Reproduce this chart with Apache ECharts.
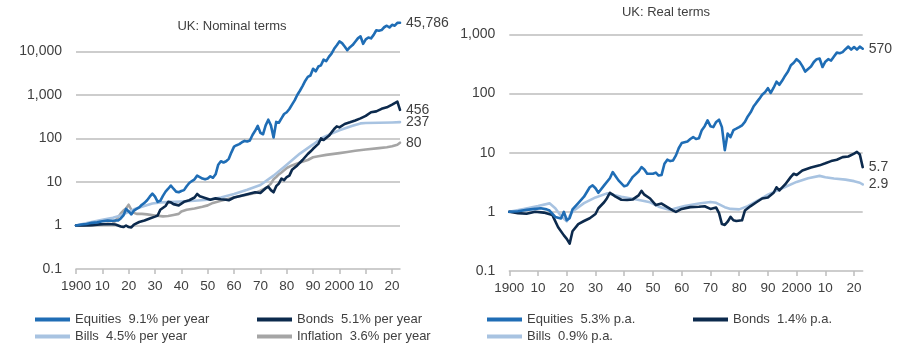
<!DOCTYPE html>
<html>
<head>
<meta charset="utf-8">
<script src="https://cdn.jsdelivr.net/npm/echarts@6/dist/echarts.min.js"></script>
<style>
html,body{margin:0;padding:0;background:#fff;}
#chart{width:900px;height:355px;}
</style>
</head>
<body>
<div id="chart"></div>
<script>
// ---------- DATA ----------
const xTickYears = [1900, 1910, 1920, 1930, 1940, 1950, 1960, 1970, 1980, 1990, 2000, 2010, 2020];
const nominalTitle = 'UK: Nominal terms';
const realTitle = 'UK: Real terms';

const nominalNames = ['Equities  9.1% per year', 'Bonds  5.1% per year', 'Bills  4.5% per year', 'Inflation  3.6% per year'];
const nominalEndLabels = ['45,786', '456', '237', '80'];
const realNames = ['Equities  5.3% p.a.', 'Bonds  1.4% p.a.', 'Bills  0.9% p.a.'];
const realEndLabels = ['570', '5.7', '2.9'];

const nominalEquities = [[1900,1],[1902,1.05],[1904,1.08],[1906,1.15],[1908,1.18],[1910,1.25],[1912,1.3],[1914,1.28],[1915,1.3],[1916,1.3],[1917,1.45],[1918,1.7],[1919,2.4],[1920,2.1],[1921,1.8],[1922,2.2],[1923,2.4],[1924,2.6],[1925,3.0],[1926,3.3],[1927,3.8],[1928,4.6],[1929,5.4],[1930,4.6],[1931,3.5],[1932,3.7],[1933,4.8],[1934,6.0],[1935,7.0],[1936,8.3],[1937,7.0],[1938,6.0],[1939,5.8],[1940,6.2],[1941,6.5],[1942,8.0],[1943,9.5],[1944,10.5],[1945,11.5],[1946,14],[1947,13],[1948,12],[1949,11.5],[1950,12],[1951,13.5],[1952,12.5],[1953,15],[1954,25],[1955,30],[1956,28],[1957,30],[1958,34],[1959,48],[1960,65],[1961,70],[1962,74],[1963,82],[1964,88],[1965,85],[1966,90],[1967,120],[1968,150],[1969,195],[1970,135],[1971,125],[1972,200],[1973,270],[1974,200],[1975,105],[1976,240],[1977,230],[1978,290],[1979,365],[1980,400],[1981,475],[1982,600],[1983,750],[1984,1000],[1985,1250],[1986,1600],[1987,2100],[1988,2600],[1989,2800],[1990,4000],[1991,3500],[1992,4500],[1993,4800],[1994,6500],[1995,6000],[1996,7500],[1997,8900],[1998,11500],[1999,13900],[2000,17000],[2001,15500],[2002,13000],[2003,10700],[2004,12500],[2005,14000],[2006,16700],[2007,20000],[2008,22300],[2009,15000],[2010,19000],[2011,21000],[2012,20000],[2013,24000],[2014,30700],[2015,30000],[2016,31000],[2017,36000],[2018,39000],[2019,35500],[2020,41000],[2021,39000],[2022,45500],[2023,45786]];

const nominalBonds = [[1900,1],[1903,1.0],[1906,1.02],[1909,1.06],[1912,1.08],[1915,1.05],[1917,0.95],[1918,0.92],[1919,1.0],[1920,0.92],[1921,0.9],[1922,1.05],[1924,1.2],[1926,1.3],[1928,1.45],[1930,1.6],[1931,1.7],[1932,2.3],[1934,2.8],[1935,3.5],[1936,3.4],[1937,3.1],[1939,2.9],[1941,3.5],[1943,3.8],[1945,4.4],[1946,5.3],[1947,4.7],[1949,4.3],[1951,3.9],[1953,4.2],[1955,4.0],[1957,3.9],[1958,3.8],[1960,4.4],[1962,4.7],[1965,5.2],[1968,5.8],[1970,5.6],[1972,7.2],[1973,7.8],[1974,6.5],[1975,5.8],[1976,8.0],[1977,9.2],[1978,12],[1979,11],[1980,13],[1981,14],[1982,19],[1984,24],[1986,32],[1988,44],[1989,50],[1990,58],[1992,75],[1993,100],[1994,92],[1996,115],[1998,165],[1999,190],[2000,180],[2002,215],[2004,235],[2006,260],[2008,290],[2010,330],[2012,400],[2014,420],[2016,480],[2018,520],[2020,600],[2021,650],[2022,700],[2023,456]];

const nominalBills = [[1900,1],[1905,1.17],[1910,1.35],[1914,1.5],[1917,1.7],[1920,2.05],[1922,2.35],[1925,2.7],[1929,3.2],[1932,3.4],[1935,3.45],[1940,3.55],[1945,3.7],[1950,3.9],[1955,4.4],[1960,5.3],[1965,6.6],[1970,8.5],[1975,14],[1980,25],[1985,45],[1990,73],[1993,100],[1995,115],[2000,155],[2005,195],[2008,222],[2010,226],[2015,230],[2020,233],[2023,237]];

const nominalInflation = [[1900,1],[1905,1.0],[1910,1.05],[1914,1.1],[1915,1.3],[1916,1.55],[1917,1.9],[1918,2.2],[1919,2.45],[1920,3.0],[1921,2.3],[1922,1.95],[1923,1.85],[1925,1.85],[1927,1.8],[1930,1.7],[1933,1.62],[1935,1.65],[1937,1.75],[1939,1.85],[1940,2.1],[1942,2.3],[1945,2.45],[1948,2.7],[1950,2.9],[1952,3.3],[1955,3.7],[1958,4.1],[1960,4.4],[1963,4.8],[1965,5.1],[1968,5.6],[1970,6.3],[1972,7.2],[1973,8.0],[1974,9.2],[1975,11.5],[1976,13],[1977,15],[1978,16.5],[1979,18.5],[1980,21],[1982,24],[1985,28],[1988,32],[1990,37],[1992,39],[1995,42],[2000,46],[2003,49],[2006,52],[2010,56],[2015,60],[2018,63],[2020,66],[2021,69],[2022,72],[2023,80]];

const realEquities = [[1900,1],[1903,1.02],[1906,1.08],[1909,1.12],[1911,1.15],[1913,1.1],[1914,1.05],[1916,0.82],[1918,0.77],[1919,1.0],[1920,0.72],[1921,0.78],[1922,1.1],[1924,1.4],[1926,1.8],[1928,2.6],[1929,2.8],[1930,2.5],[1931,2.1],[1933,2.8],[1935,3.7],[1936,4.7],[1937,4.0],[1938,3.4],[1940,2.7],[1941,2.8],[1943,3.9],[1945,4.8],[1946,5.7],[1947,5.2],[1948,4.4],[1950,4.4],[1951,4.6],[1952,4.1],[1953,4.2],[1954,6.5],[1955,7.6],[1956,7.2],[1957,7.4],[1958,9.0],[1959,12],[1960,14.5],[1961,15],[1962,15.5],[1963,17],[1964,18.3],[1965,17],[1966,17.5],[1967,24],[1968,28],[1969,35],[1970,28],[1971,27],[1972,33],[1973,36],[1974,27],[1975,11],[1976,21],[1977,18.3],[1978,24],[1979,25.4],[1980,27],[1981,29],[1982,33],[1983,41],[1984,48],[1985,60],[1986,70],[1987,81],[1988,95],[1989,105],[1990,123],[1991,102],[1992,125],[1993,158],[1994,140],[1995,165],[1996,200],[1997,235],[1998,300],[1999,330],[2000,380],[2001,345],[2002,290],[2003,235],[2004,260],[2005,285],[2006,340],[2007,380],[2008,390],[2009,280],[2010,345],[2011,380],[2012,360],[2013,420],[2014,490],[2015,480],[2016,500],[2017,560],[2018,620],[2019,550],[2020,610],[2021,550],[2022,620],[2023,570]];

const realBonds = [[1900,1],[1903,0.95],[1906,0.93],[1909,1.0],[1912,0.97],[1915,0.88],[1917,0.55],[1919,0.4],[1920,0.35],[1921,0.29],[1922,0.47],[1924,0.62],[1926,0.7],[1928,0.78],[1930,0.92],[1931,1.15],[1933,1.45],[1934,1.7],[1935,2.1],[1936,1.95],[1937,1.8],[1939,1.6],[1941,1.58],[1943,1.62],[1945,1.9],[1946,2.26],[1947,1.95],[1949,1.68],[1951,1.3],[1953,1.38],[1955,1.2],[1957,1.05],[1958,1.0],[1960,1.12],[1963,1.2],[1966,1.22],[1968,1.24],[1970,1.12],[1972,1.18],[1973,0.95],[1974,0.62],[1975,0.6],[1976,0.68],[1977,0.82],[1978,0.72],[1979,0.7],[1981,0.72],[1982,1.05],[1984,1.25],[1986,1.45],[1988,1.68],[1990,1.75],[1992,2.1],[1993,2.6],[1994,2.3],[1996,2.9],[1998,3.9],[1999,4.4],[2000,4.2],[2002,5.0],[2005,5.6],[2008,6.1],[2010,6.6],[2012,7.2],[2014,7.6],[2016,8.4],[2018,8.6],[2020,9.6],[2021,10.3],[2022,9.3],[2023,5.7]];

const realBills = [[1900,1],[1905,1.12],[1910,1.25],[1914,1.39],[1916,1.15],[1918,0.85],[1920,0.69],[1921,0.85],[1922,1.0],[1923,1.1],[1926,1.4],[1930,1.75],[1934,2.05],[1936,1.95],[1939,1.8],[1942,1.7],[1946,1.55],[1949,1.45],[1952,1.22],[1956,1.07],[1958,1.15],[1961,1.25],[1966,1.38],[1970,1.47],[1972,1.42],[1975,1.2],[1977,1.12],[1980,1.1],[1983,1.25],[1987,1.6],[1990,1.95],[1995,2.5],[2000,3.2],[2004,3.7],[2008,4.05],[2010,3.85],[2013,3.65],[2017,3.5],[2020,3.3],[2022,3.1],[2023,2.9]];

// ---------- STYLE ----------
const COLORS = { equities: '#1f6db5', bonds: '#0c2a4d', bills: '#a8c3e1', inflation: '#a5a5a5' };
const TEXT = '#404040';
const GRID_LINE = '#bdbdbd';
const FONT = 'Liberation Sans, Arial, sans-serif';

function xLabel(v) {
  if (v === 1900) return '1900';
  if (v === 2000) return '2000';
  if (v % 10 !== 0) return '';
  return String(v % 100);
}
function yLabel(v) {
  if (v < 0.5) return '0.1';
  return Math.round(v).toLocaleString('en-US');
}
function xAxisCfg(gridIndex) {
  return {
    type: 'value', gridIndex, min: 1900, max: 2023, interval: 10,
    axisLine: { show: true, lineStyle: { color: GRID_LINE, width: 1.5 } },
    axisTick: { show: true, length: 5, lineStyle: { color: GRID_LINE, width: 1.5 } },
    axisLabel: { formatter: xLabel, color: TEXT, fontSize: 13.5, fontFamily: FONT, margin: 10, showMaxLabel: false },
    splitLine: { show: false }
  };
}
function yAxisCfg(gridIndex, max) {
  return {
    type: 'log', logBase: 10, gridIndex, min: 0.1, max: max,
    axisLine: { show: false }, axisTick: { show: false },
    axisLabel: { formatter: yLabel, color: TEXT, fontSize: 14, fontFamily: FONT, margin: 14, showMaxLabel: max === 1000 },
    splitLine: { show: true, showMaxLine: max === 1000, showMinLine: false, lineStyle: { color: GRID_LINE, width: 1.5 } }
  };
}
function lineSeries(name, data, color, xi, label, z) {
  return {
    type: 'line', name, data, xAxisIndex: xi, yAxisIndex: xi,
    showSymbol: false, symbol: 'none', z: z,
    lineStyle: { color, width: 2.6, cap: 'round', join: 'round' },
    itemStyle: { color },
    endLabel: { show: true, formatter: label, color: TEXT, fontSize: 14, fontFamily: FONT, distance: 6 },
    emphasis: { disabled: true }
  };
}

const chart = echarts.init(document.getElementById('chart'), null, { renderer: 'canvas' });
const legendText = { color: TEXT, fontSize: 13, fontFamily: FONT };
const legendBase = { orient: 'vertical', icon: 'rect', itemWidth: 35, itemHeight: 4, itemGap: 4, textStyle: legendText, selectedMode: false };

chart.setOption({
  animation: false,
  backgroundColor: '#ffffff',
  title: [
    { text: nominalTitle, left: 227, top: 15, textAlign: 'center', textStyle: { color: TEXT, fontSize: 13, fontWeight: 'normal', fontFamily: FONT } },
    { text: realTitle, left: 661, top: 1, textAlign: 'center', textStyle: { color: TEXT, fontSize: 13, fontWeight: 'normal', fontFamily: FONT } }
  ],
  grid: [
    { left: 76, top: 17.6, width: 324, height: 251.4 },
    { left: 509.3, top: 34.3, width: 353.4, height: 236.7 }
  ],
  xAxis: [xAxisCfg(0), xAxisCfg(1)],
  yAxis: [yAxisCfg(0, 60000), yAxisCfg(1, 1000)],
  legend: [
    Object.assign({}, legendBase, { left: 30, top: 308, data: [nominalNames[0], nominalNames[2]] }),
    Object.assign({}, legendBase, { left: 252, top: 308, data: [nominalNames[1], nominalNames[3]] }),
    Object.assign({}, legendBase, { left: 482, top: 308, data: [realNames[0], realNames[2]] }),
    Object.assign({}, legendBase, { left: 688, top: 308, data: [realNames[1]] })
  ],
  series: [
    lineSeries(nominalNames[3], nominalInflation, COLORS.inflation, 0, nominalEndLabels[3], 2),
    lineSeries(nominalNames[2], nominalBills, COLORS.bills, 0, nominalEndLabels[2], 3),
    lineSeries(nominalNames[1], nominalBonds, COLORS.bonds, 0, nominalEndLabels[1], 4),
    lineSeries(nominalNames[0], nominalEquities, COLORS.equities, 0, nominalEndLabels[0], 5),
    lineSeries(realNames[2], realBills, COLORS.bills, 1, realEndLabels[2], 3),
    lineSeries(realNames[1], realBonds, COLORS.bonds, 1, realEndLabels[1], 4),
    lineSeries(realNames[0], realEquities, COLORS.equities, 1, realEndLabels[0], 5)
  ]
});
</script>
</body>
</html>
